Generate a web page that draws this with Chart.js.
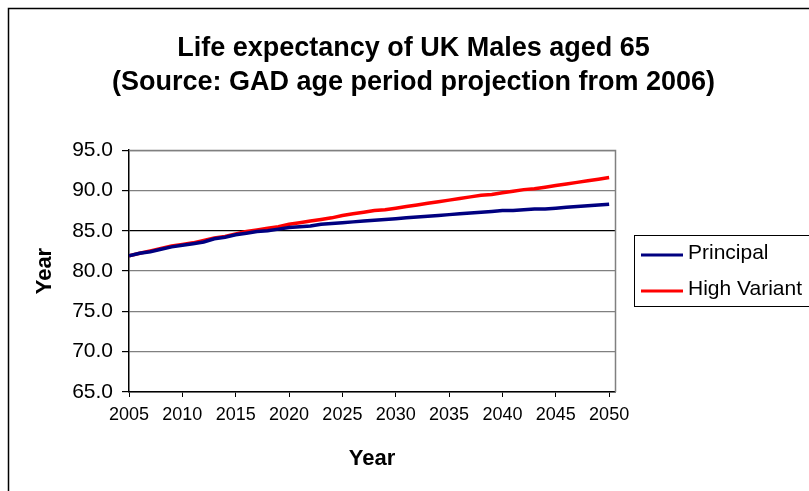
<!DOCTYPE html>
<html>
<head>
<meta charset="utf-8">
<title>Life expectancy of UK Males aged 65</title>
<script src="https://cdn.jsdelivr.net/npm/chart.js@4/dist/chart.umd.min.js"></script>
<style>
  body { margin: 0; background: #fff; }
  #chart { display: block; }
</style>
</head>
<body>
<canvas id="chart" width="809" height="491"></canvas>
<script>
/* Data */
let years = [
    2005, 2006, 2007, 2008, 2009, 2010, 2011, 2012, 2013, 2014,
    2015, 2016, 2017, 2018, 2019, 2020, 2021, 2022, 2023, 2024,
    2025, 2026, 2027, 2028, 2029, 2030, 2031, 2032, 2033, 2034,
    2035, 2036, 2037, 2038, 2039, 2040, 2041, 2042, 2043, 2044,
    2045, 2046, 2047, 2048, 2049, 2050
]
let principal = [
    81.9, 82.2, 82.4, 82.7, 83.0, 83.2, 83.4, 83.6, 84.0, 84.2,
    84.5, 84.7, 84.9, 85.0, 85.2, 85.4, 85.5, 85.6, 85.8, 85.9,
    86.0, 86.1, 86.2, 86.3, 86.4, 86.5, 86.6, 86.7, 86.8, 86.9,
    87.0, 87.1, 87.2, 87.3, 87.4, 87.5, 87.5, 87.6, 87.7, 87.7,
    87.8, 87.9, 88.0, 88.1, 88.2, 88.3
]
let highVariant = [
    81.9, 82.2, 82.5, 82.8, 83.1, 83.3, 83.5, 83.8, 84.1, 84.3,
    84.6, 84.9, 85.1, 85.3, 85.5, 85.8, 86.0, 86.2, 86.4, 86.6,
    86.9, 87.1, 87.3, 87.5, 87.6, 87.8, 88.0, 88.2, 88.4, 88.6,
    88.8, 89.0, 89.2, 89.4, 89.5, 89.7, 89.9, 90.1, 90.2, 90.4,
    90.6, 90.8, 91.0, 91.2, 91.4, 91.6
]
let seriesNames = ['Principal', 'High Variant']
let seriesColors = ['#000080', '#ff0000']
let xTicks = [2005, 2010, 2015, 2020, 2025, 2030, 2035, 2040, 2045, 2050]
let yTicks = [65, 70, 75, 80, 85, 90, 95]

let fontName = '"Liberation Sans", Arial, sans-serif'

function toPoints(values) {
    return years.map((yr, i) => ({ x: yr, y: values[i] }))
}

// white page + outer chart frame (right/bottom fall off the picture)
let frame = {
    id: 'frame',
    beforeDraw(chart) {
        let ctx = chart.ctx
        ctx.save()
        ctx.fillStyle = '#fff'
        ctx.fillRect(0, 0, chart.width, chart.height)
        ctx.strokeStyle = '#000'
        ctx.lineWidth = 1.5
        ctx.strokeRect(8.5, 8.5, 900, 600)
        ctx.restore()
    },
    beforeDatasetsDraw(chart) {
        // grey plot area border on top and right
        let a = chart.chartArea
        let ctx = chart.ctx
        ctx.save()
        ctx.strokeStyle = '#808080'
        ctx.lineWidth = 1.5
        ctx.beginPath()
        ctx.moveTo(a.left, a.top + 0.5)
        ctx.lineTo(a.right + 0.5, a.top + 0.5)
        ctx.lineTo(a.right + 0.5, a.bottom)
        ctx.stroke()
        ctx.restore()
    }
}

// boxed legend to the right, like the Excel one
let boxLegend = {
    id: 'boxLegend',
    afterDraw(chart) {
        let ctx = chart.ctx
        ctx.save()
        ctx.strokeStyle = '#000'
        ctx.lineWidth = 1
        ctx.strokeRect(634.5, 235.5, 220, 71)
        chart.data.datasets.forEach((ds, i) => {
            let y = 255 + i * 36
            ctx.strokeStyle = ds.borderColor
            ctx.lineWidth = 3
            ctx.beginPath()
            ctx.moveTo(641, y)
            ctx.lineTo(683, y)
            ctx.stroke()
            ctx.fillStyle = '#000'
            ctx.font = '21px ' + fontName
            ctx.textBaseline = 'middle'
            ctx.fillText(ds.label, 688, y - 2)
        })
        ctx.restore()
    }
}

let ctx = document.querySelector('#chart').getContext('2d')

let lifeChart = new Chart(ctx, {
    type: 'line',
    data: {
        datasets: [
            {
                label: seriesNames[0],
                data: toPoints(principal),
                borderColor: seriesColors[0],
                backgroundColor: seriesColors[0],
                borderWidth: 3.5,
                pointRadius: 0,
                tension: 0
            },
            {
                label: seriesNames[1],
                data: toPoints(highVariant),
                borderColor: seriesColors[1],
                backgroundColor: seriesColors[1],
                borderWidth: 3.5,
                pointRadius: 0,
                tension: 0
            }
        ]
    },
    options: {
        responsive: false,
        animation: false,
        // the original chart is wider than the picture, so its title sits a bit right of centre
        layout: { padding: { left: 18, right: 0, top: 0, bottom: 0 } },
        plugins: {
            legend: { display: false },
            tooltip: { enabled: false },
            title: {
                display: true,
                text: ['Life expectancy of UK Males aged 65', '(Source: GAD age period projection from 2006)'],
                color: '#000',
                font: { family: fontName, size: 27, weight: 'bold', lineHeight: 1.28 },
                padding: { top: 31, bottom: 50 }
            }
        },
        scales: {
            x: {
                type: 'linear',
                min: 2005,
                max: 2050.55,
                afterBuildTicks: scale => { scale.ticks = xTicks.map(v => ({ value: v })) },
                afterFit: scale => { scale.height = 99 },
                ticks: {
                    autoSkip: false,
                    maxRotation: 0,
                    color: '#000',
                    padding: 7,
                    font: { family: fontName, size: 18 },
                    callback: v => String(v)
                },
                grid: { drawOnChartArea: false, tickLength: 5, color: '#000' },
                border: { color: '#000', width: 1.5 },
                title: {
                    display: true,
                    text: 'Year',
                    color: '#000',
                    font: { family: fontName, size: 22, weight: 'bold' },
                    padding: { top: 0, bottom: 19 }
                }
            },
            y: {
                min: 65,
                max: 95,
                afterBuildTicks: scale => { scale.ticks = yTicks.map(v => ({ value: v })) },
                afterFit: scale => { scale.width = 111 },
                ticks: {
                    color: '#000',
                    padding: 9,
                    font: { family: fontName, size: 21 },
                    callback: v => v.toFixed(1)
                },
                grid: {
                    color: c => (c.tick && c.tick.value === 85 ? '#000' : '#808080'),
                    lineWidth: 1.2,
                    tickLength: 7,
                    tickColor: '#000'
                },
                border: { color: '#000', width: 1.5 },
                title: {
                    display: true,
                    text: 'Year',
                    color: '#000',
                    font: { family: fontName, size: 22, weight: 'bold' },
                    padding: { top: 14 }
                }
            },
            // empty right-hand scale that keeps room for the legend
            side: {
                type: 'linear',
                position: 'right',
                afterFit: scale => { scale.width = 194 },
                ticks: { display: false },
                grid: { display: false },
                border: { display: false }
            }
        }
    },
    plugins: [frame, boxLegend]
})
</script>
</body>
</html>
